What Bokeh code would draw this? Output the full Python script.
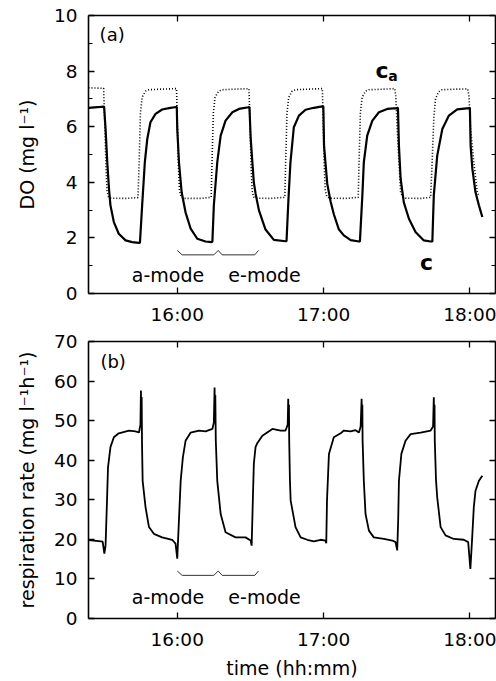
from bokeh.plotting import figure
from bokeh.layouts import column
from bokeh.models import LinearAxis, FixedTicker, Range1d, Label, CustomLabelingPolicy
from bokeh.embed import file_html
from bokeh.resources import INLINE

# ---------------- data (time = minutes after 15:00) ----------------
time_ticks = [60, 120, 180]
time_labels = ["16:00", "17:00", "18:00"]

do_ticks = [0, 2, 4, 6, 8, 10]
do_minor = [1, 3, 5, 7, 9]
resp_ticks = [0, 10, 20, 30, 40, 50, 60, 70]

# measured DO, c (solid)
c_t = [23.6, 28.5, 30.0, 30.6, 31.3, 32.0, 32.6, 34.0, 36.0, 38.8, 41.5, 44.3,
       44.7, 45.6, 46.7, 47.7, 49.0, 51.1, 53.8, 56.6, 59.5,
       59.8, 60.0, 60.7, 61.8, 63.4, 65.5, 68.2, 71.6, 74.1,
       74.4, 75.0, 76.4, 77.8, 79.8, 82.6, 85.3, 89.1, 89.6,
       90.1, 90.8, 91.4, 92.1, 93.5, 95.0, 96.2, 99.6, 104.4,
       104.8, 105.6, 106.4, 107.8, 109.9, 112.6, 116.0, 119.5, 119.9,
       120.2, 121.5, 122.9, 124.2, 126.3, 128.3, 131.1, 134.5,
       134.9, 135.9, 136.5, 137.9, 140.0, 142.7, 146.1, 150.2, 150.5,
       150.9, 151.6, 152.9, 155.0, 157.7, 161.1, 163.9,
       164.6, 165.2, 166.6, 168.7, 171.4, 174.8, 179.6, 180.0,
       180.3, 181.0, 182.3, 183.7, 185.1]
c_v = [6.68, 6.71, 6.72, 5.92, 4.72, 3.77, 3.17, 2.57, 2.15, 1.91, 1.85, 1.82,
       1.83, 3.17, 4.72, 5.56, 6.16, 6.46, 6.62, 6.67, 6.71,
       6.71, 5.92, 4.72, 3.64, 2.92, 2.33, 1.97, 1.87, 1.85,
       1.86, 3.17, 4.72, 5.68, 6.22, 6.52, 6.64, 6.70, 6.71,
       5.60, 4.72, 4.00, 3.60, 2.99, 2.60, 2.30, 1.93, 1.88,
       1.88, 3.40, 4.70, 5.98, 6.40, 6.61, 6.68, 6.73, 6.73,
       5.30, 3.95, 3.30, 2.85, 2.30, 2.09, 1.92, 1.87,
       1.87, 3.53, 4.72, 5.68, 6.22, 6.52, 6.64, 6.67, 6.68,
       5.32, 4.13, 3.28, 2.69, 2.21, 1.91, 1.87,
       1.87, 3.53, 4.96, 5.92, 6.40, 6.62, 6.67, 6.68,
       5.32, 4.49, 3.64, 3.17, 2.75]

# DO set point, c_a (dotted)
ca_t = [23.6, 29.8, 30.3, 30.8, 31.2, 31.8, 32.6, 38.8, 43.9,
        44.4, 44.9, 45.6, 47.0, 48.4, 53.2, 59.7,
        60.1, 60.5, 60.9, 61.6, 62.6, 69.6, 73.9,
        74.3, 74.8, 75.5, 76.9, 78.4, 83.9, 89.4,
        89.9, 90.3, 90.7, 91.3, 92.6, 98.3, 104.1,
        104.5, 105.0, 105.7, 107.1, 108.5, 113.8, 119.5,
        119.9, 120.3, 120.7, 121.4, 122.5, 129.0, 134.2,
        134.6, 135.1, 135.8, 137.2, 138.6, 144.2, 149.2,
        149.6, 150.2, 150.9, 151.6, 152.4, 153.6, 159.8, 163.9,
        164.6, 165.2, 165.9, 167.2, 168.6, 174.1, 179.1,
        179.6, 180.3, 181.6, 183.0, 183.7]
ca_v = [7.40, 7.38, 6.0, 4.5, 3.7, 3.48, 3.43, 3.42, 3.45,
        4.8, 6.5, 7.06, 7.28, 7.33, 7.35, 7.37,
        5.9, 4.5, 3.7, 3.47, 3.42, 3.42, 3.46,
        4.9, 6.5, 7.06, 7.27, 7.33, 7.35, 7.37,
        5.9, 4.5, 3.7, 3.47, 3.43, 3.42, 3.46,
        4.9, 6.5, 7.06, 7.28, 7.33, 7.35, 7.37,
        5.9, 4.5, 3.7, 3.47, 3.43, 3.42, 3.46,
        4.9, 6.5, 7.06, 7.28, 7.33, 7.35, 7.37,
        7.1, 5.93, 4.72, 3.64, 3.48, 3.43, 3.42, 3.46,
        4.9, 6.3, 7.0, 7.26, 7.33, 7.35, 7.36,
        7.12, 5.93, 4.72, 3.64, 3.53]

# respiration rate
resp_t = [23.6, 26.9, 29.4, 30.1, 30.6, 31.2, 31.6, 32.6, 34.0, 36.0, 40.2, 42.9, 44.3,
          44.9, 45.1, 45.25, 45.4, 45.55, 45.8, 47.0, 48.4, 50.4, 53.8, 57.9, 59.3, 60.0,
          60.7, 61.4, 62.3, 63.4, 65.5, 68.9, 71.6, 74.4,
          75.0, 75.3, 75.45, 75.6, 75.8, 76.4, 77.8, 79.8, 83.9, 88.0, 90.1, 90.5,
          91.0, 91.4, 92.1, 92.8, 94.9, 99.0, 102.4, 104.4,
          105.3, 105.5, 105.65, 105.8, 105.9, 106.2, 106.5, 108.5, 110.6, 113.3, 116.0, 118.8, 120.8, 121.1,
          121.4, 122.2, 124.2, 127.0, 128.3, 131.1, 133.1, 134.5,
          135.2, 135.6, 135.75, 135.9, 136.0, 136.5, 137.2, 138.6, 140.6, 144.7, 148.2, 149.5, 150.2,
          150.6, 150.9, 151.9, 153.6, 155.7, 159.8, 163.9,
          164.9, 165.2, 165.35, 165.5, 165.6, 166.1, 166.6, 168.0, 170.0, 173.4, 177.5, 179.3, 180.2,
          180.9, 181.6, 182.3, 183.7, 185.1]
resp_v = [19.8, 19.6, 19.4, 16.4, 18.5, 30.0, 38.2, 43.3, 45.8, 46.8, 47.5, 47.3, 47.0,
          49.0, 57.6, 50.5, 56.0, 44.0, 34.8, 28.1, 23.1, 21.4, 20.5, 19.9, 18.9, 15.1,
          25.0, 34.8, 40.7, 44.9, 47.0, 47.5, 47.3, 47.9,
          49.5, 58.4, 51.0, 56.5, 45.0, 34.8, 26.4, 21.8, 20.5, 20.5, 19.7, 18.4,
          30.0, 39.1, 43.3, 44.3, 46.2, 47.9, 47.5, 47.5,
          49.0, 55.5, 49.0, 54.0, 45.0, 35.0, 29.8, 23.1, 20.5, 19.9, 19.5, 19.9, 19.7, 19.0,
          29.8, 41.6, 45.8, 46.8, 47.5, 47.3, 47.6, 47.0,
          48.5, 55.5, 49.0, 54.0, 45.0, 34.8, 26.4, 22.2, 20.5, 20.1, 19.7, 19.3, 17.2,
          25.0, 34.8, 41.6, 44.9, 46.6, 47.0, 47.5,
          48.5, 55.9, 49.5, 54.0, 45.0, 35.0, 30.6, 23.1, 21.0, 20.1, 19.9, 19.3, 12.5,
          20.0, 28.1, 32.3, 34.8, 36.1]

# operating modes (bracket bounds, minutes after 15:00)
mode_bounds = [60.0, 76.8, 93.3]
mode_names = ["a-mode", "e-mode"]

# ---------------- styling ----------------
FONT = "DejaVu Sans"
TICK_SIZE = "18.5px"
X_RANGE = (23.6, 190.5)

HIDE_LABELS = "for (const i of indices) indices.unset(i); return indices"


def style_axis(ax, labels=True):
    ax.axis_line_color = "black"
    ax.axis_line_width = 1.6
    ax.major_tick_line_color = "black"
    ax.major_tick_line_width = 1.3
    ax.minor_tick_line_color = "black"
    ax.minor_tick_line_width = 1.1
    ax.major_tick_in = 6
    ax.major_tick_out = 0
    ax.minor_tick_in = 4
    ax.minor_tick_out = 0
    ax.major_label_text_font = FONT
    ax.major_label_text_color = "black"
    ax.axis_label_text_font = FONT
    ax.axis_label_text_font_style = "normal"
    ax.axis_label_text_color = "black"
    if labels:
        ax.major_label_text_font_size = TICK_SIZE
        ax.major_label_standoff = 11
    else:
        ax.major_label_text_font_size = "1px"
        ax.major_label_standoff = 0
        ax.major_label_policy = CustomLabelingPolicy(code=HIDE_LABELS)


def make_panel(y_max, y_ticks, y_minor, frame_h, top, bottom, y_label, x_label):
    p = figure(frame_width=407, frame_height=frame_h,
               x_range=Range1d(*X_RANGE), y_range=Range1d(0, y_max),
               min_border_left=88, min_border_right=1,
               min_border_top=top, min_border_bottom=bottom,
               output_backend="svg", toolbar_location=None)
    p.xgrid.visible = False
    p.ygrid.visible = False
    p.outline_line_color = None
    p.background_fill_color = "white"
    p.border_fill_color = "white"

    xt = FixedTicker(ticks=time_ticks, minor_ticks=[])
    yt = FixedTicker(ticks=y_ticks, minor_ticks=y_minor)

    p.xaxis.ticker = xt
    p.xaxis.major_label_overrides = dict(zip(time_ticks, time_labels))
    p.yaxis.ticker = yt
    for ax in p.xaxis + p.yaxis:
        style_axis(ax, True)
    p.xaxis.major_label_standoff = 10
    p.yaxis.axis_label = y_label
    p.yaxis.axis_label_text_font_size = "19px"
    p.yaxis.axis_label_standoff = 13
    if x_label:
        p.xaxis.axis_label = x_label
        p.xaxis.axis_label_text_font_size = "19px"
        p.xaxis.axis_label_standoff = 4

    right = LinearAxis(ticker=yt)
    style_axis(right, False)
    p.add_layout(right, "right")
    top_ax = LinearAxis(ticker=xt)
    style_axis(top_ax, False)
    p.add_layout(top_ax, "above")
    return p


def add_bracket(p, tip, base):
    b0, b1, b2 = mode_bounds
    xs = [b0, b0 + 2.0, b1 - 1.8, b1, b1 + 1.6, b2 - 1.5, b2]
    ys = [tip, base, base, tip, base, base, tip]
    p.line(xs, ys, line_color="#333333", line_width=1.0)


def add_text(p, x, y, text, size, style="normal", align="center", baseline="alphabetic"):
    p.add_layout(Label(x=x, y=y, text=text, text_font=FONT, text_font_size=size,
                       text_font_style=style, text_color="black",
                       text_align=align, text_baseline=baseline))


# ---------------- panel (a) ----------------
p1 = make_panel(10, do_ticks, do_minor, 278, 15, 37, "DO (mg l\u207b\u00b9)", None)
p1.line(ca_t, ca_v, line_color="black", line_width=1.6, line_dash="1 2")
p1.line(c_t, c_v, line_color="black", line_width=2.2)
add_bracket(p1, 1.55, 1.39)
add_text(p1, 33.3, 9.3, "(a)", "18px", baseline="middle")
add_text(p1, 56.2, 0.65, mode_names[0], "19px")
add_text(p1, 95.8, 0.65, mode_names[1], "19px")
add_text(p1, 144.0, 8.02, "c", "22px", style="bold")
add_text(p1, 148.5, 7.84, "a", "14px", style="bold")
add_text(p1, 162.2, 1.11, "c", "22px", style="bold")

# ---------------- panel (b) ----------------
p2 = make_panel(70, resp_ticks, [], 277, 11, 63,
                "respiration rate (mg l\u207b\u00b9h\u207b\u00b9)", "time (hh:mm)")
p2.line(resp_t, resp_v, line_color="black", line_width=1.8)
add_bracket(p2, 12.0, 10.9)
add_text(p2, 33.7, 64.9, "(b)", "18px", baseline="middle")
add_text(p2, 56.2, 5.5, mode_names[0], "19px")
add_text(p2, 95.8, 5.5, mode_names[1], "19px")

layout = column(p1, p2, spacing=0)
open("out.html", "w").write(file_html(layout, INLINE))
